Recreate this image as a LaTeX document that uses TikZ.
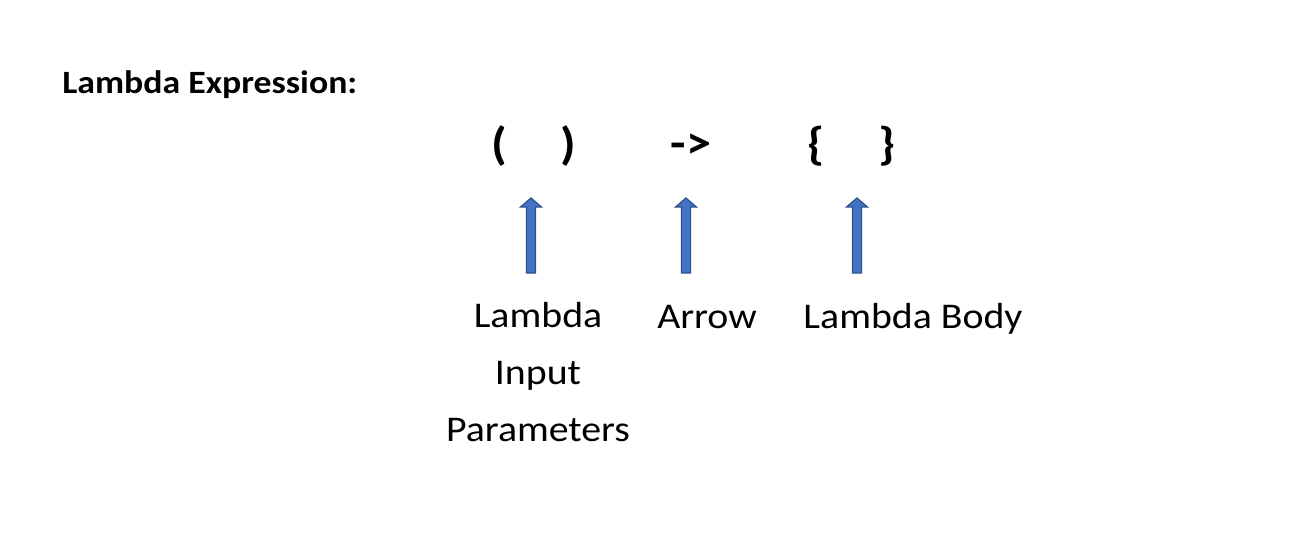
\documentclass[tikz,border=0pt]{standalone}
\usepackage{fontspec}
\setmainfont[FakeStretch=1.1]{Carlito}
\usetikzlibrary{positioning, calc}
\definecolor{LxBlue}{RGB}{68,114,196}
\definecolor{LxEdge}{RGB}{47,82,143}
\begin{document}
\begin{tikzpicture}[x=0.02cm, y=0.02cm,
          lbl/.style={inner sep=0pt, align=center,
                      font=\fontsize{20.6}{32.3}\selectfont},
          sym/.style={inner sep=0pt, font=\fontsize{26}{30}\selectfont\bfseries},
          blockarr/.style={draw=LxEdge, fill=LxBlue, line width=0.7pt,
                     line join=miter, to path={
            ($(\tikztostart)+(-4.5,0)$) -- ($(\tikztotarget)+(-4.5,-9)$)
            -- ($(\tikztotarget)+(-10.5,-9)$) -- (\tikztotarget)
            -- ($(\tikztotarget)+(10.5,-9)$) -- ($(\tikztotarget)+(4.5,-9)$)
            -- ($(\tikztostart)+(4.5,0)$) -- cycle}}
        ]
        \useasboundingbox (0,0) rectangle (1307,552);

        \node[inner sep=0pt, anchor=base west,
              font=\fontsize{18.5}{22}\selectfont\bfseries]
              (title) at (62,459) {Lambda Expression:};

        % the expression itself
        \node[sym] (lpar) at (499,406) {(};
        \node[sym] (rpar) at (568,406) {)};
        \node[sym] (arw)  at (691,406) {->};
        \node[sym] (lbr)  at (816,406) {\{};
        \node[sym] (rbr)  at (887,406) {\}};

        % pointers
        \coordinate (parbot) at (531,279);
        \coordinate (partop) at (531,354);
        \coordinate (arwbot) at (686,279);
        \coordinate (arwtop) at (686,354);
        \coordinate (bodbot) at (857,279);
        \coordinate (bodtop) at (857,354);

        \draw[blockarr] (parbot) to (partop);
        \draw[blockarr] (arwbot) to (arwtop);
        \draw[blockarr] (bodbot) to (bodtop);

        \node[lbl, anchor=north] (params) at (538,249.5)
              {Lambda\\Input\\Parameters};
        \node[lbl, anchor=base] (arwlbl) at (707,223.5) {Arrow};
        \node[lbl, anchor=base] (body) at (913,223.5) {Lambda Body};
      \end{tikzpicture}
\end{document}
